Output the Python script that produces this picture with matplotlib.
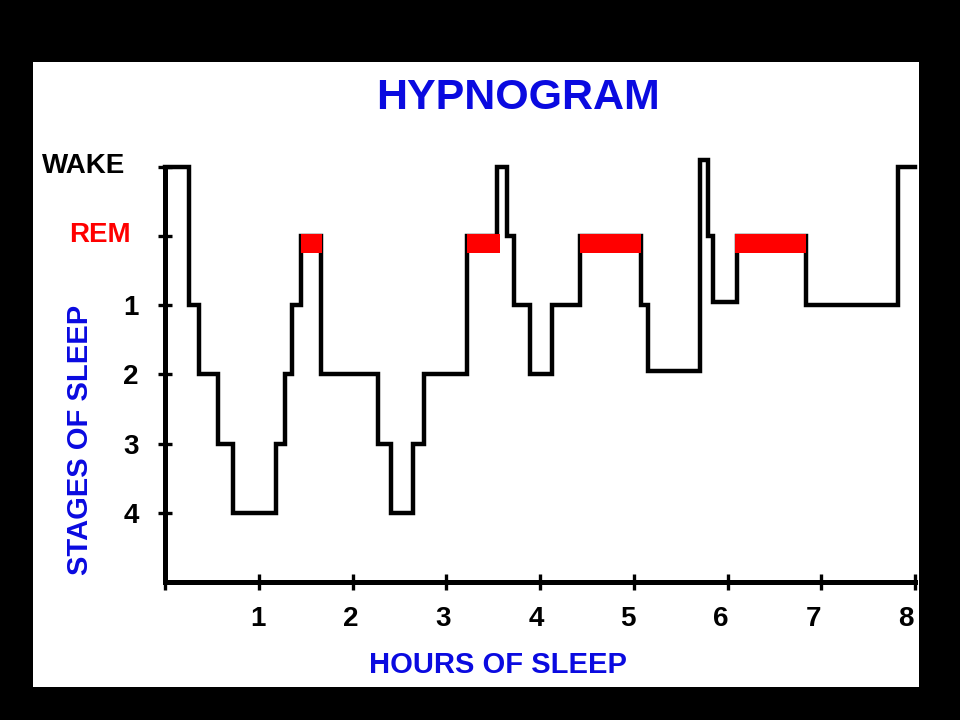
import numpy as np
import matplotlib
matplotlib.use("Agg")
import matplotlib.pyplot as plt
from matplotlib.patches import Rectangle
from matplotlib.transforms import ScaledTranslation

## DATA
# stage levels: 1=stage 4 ... 5=REM, 6=WAKE
hours = [0.0, 0.26, 0.36, 0.57, 0.72, 1.18, 1.28, 1.35, 1.45, 1.66,
         2.27, 2.41, 2.65, 2.76, 3.22, 3.54, 3.65, 3.72, 3.89, 4.13,
         4.43, 5.08, 5.15, 5.71, 5.79, 5.84, 6.10, 6.84, 7.82, 8.0]
stage = [6, 4, 3, 2, 1, 2, 3, 4, 5, 3,
         2, 1, 2, 3, 5, 6, 5, 4, 3, 4,
         5, 4, 3.05, 6.1, 5, 4.05, 5, 4, 6, 6]

rem_start = [1.45, 3.22, 4.43, 6.08]
rem_end = [1.67, 3.57, 5.08, 6.84]

stage_ticks = [1, 2, 3, 4, 5, 6]
stage_labels = ["4", "3", "2", "1", "REM", "WAKE"]
hour_ticks = [0, 1, 2, 3, 4, 5, 6, 7, 8]
hour_labels = ["", "1", "2", "3", "4", "5", "6", "7", "8"]

BLUE = "#0a0ae0"
RED = "#ff0000"
plt.rcParams["font.family"] = ["Liberation Sans", "DejaVu Sans"]
plt.rcParams["font.weight"] = "bold"

fig = plt.figure(figsize=(9.6, 7.2), dpi=100, facecolor="black")

# white panel inside black frame
fig.patches.append(Rectangle((33/960, 33/720), 886/960, 625/720,
                             transform=fig.transFigure, facecolor="white",
                             edgecolor="none", zorder=0))

ax = fig.add_axes([165/960, 138/720, 750/960, 6.15*69.2/720])
ax.set_zorder(2)
ax.patch.set_visible(False)

# hypnogram
ax.step(hours, stage, where="post", color="black", linewidth=3.2,
        solid_joinstyle="miter", clip_on=False, zorder=3)
widths = [e - s for s, e in zip(rem_start, rem_end)]
ax.broken_barh(list(zip(rem_start, widths)), (4.75, 0.28),
               facecolor=RED, edgecolor="none", zorder=4)

ax.set_xlim(0, 8)
ax.set_ylim(0, 6.15)

for side in ["top", "right"]:
    ax.spines[side].set_visible(False)
ax.spines["left"].set_bounds(0, 6)
ax.spines["bottom"].set_bounds(0, 8)
for side in ["left", "bottom"]:
    ax.spines[side].set_linewidth(3.6)
    ax.spines[side].set_capstyle("projecting")

ax.set_xticks(hour_ticks, hour_labels)
ax.set_yticks(stage_ticks, stage_labels)
ax.tick_params(axis="x", direction="inout", length=11, width=2.4,
               pad=12, labelsize=20, labelcolor="black")
ax.tick_params(axis="y", direction="inout", length=10, width=2.4,
               pad=14, labelsize=20)

# the original's hour labels sit a little left of their ticks
for i, lab in enumerate(ax.get_xticklabels()):
    dx = -9 if i == 8 else -round(1.1 * i)
    lab.set_transform(lab.get_transform() +
                      ScaledTranslation(dx/100, 0, fig.dpi_scale_trans))

# nudge WAKE / REM labels like the original
shifts = {"WAKE": (-13, 4), "REM": (-8, 4)}
for lab in ax.get_yticklabels():
    txt = lab.get_text()
    if txt == "REM":
        lab.set_color(RED)
    if txt in shifts:
        dx, dy = shifts[txt]
        lab.set_transform(lab.get_transform() +
                          ScaledTranslation(dx/100, dy/100, fig.dpi_scale_trans))

# titles
fig.text(518/960, (720-109)/720, "HYPNOGRAM", color=BLUE, fontsize=31,
         fontweight="bold", ha="center", va="baseline", zorder=5)
fig.text(498/960, (720-673)/720, "HOURS OF SLEEP", color=BLUE, fontsize=21,
         fontweight="bold", ha="center", va="baseline", zorder=5)
fig.text(88/960, (720-440)/720, "STAGES OF SLEEP", color=BLUE, fontsize=21,
         fontweight="bold", ha="center", va="baseline", rotation=90,
         rotation_mode="anchor", zorder=5)

fig.savefig("out.png", dpi=100, facecolor="black")
